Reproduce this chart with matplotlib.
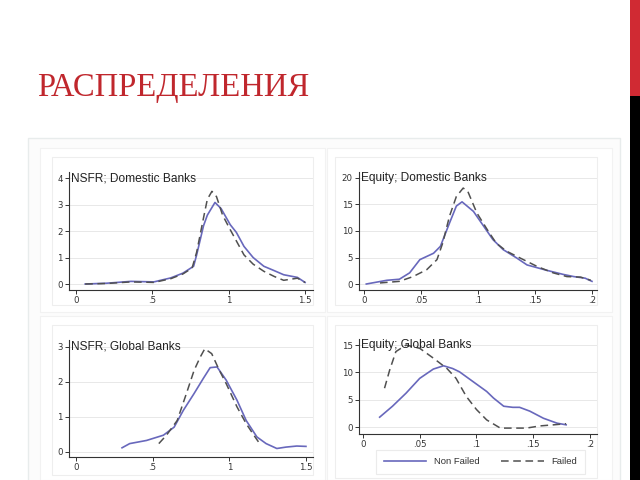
import matplotlib.pyplot as plt
import matplotlib.transforms as mtransforms
from matplotlib.patches import Rectangle
from matplotlib.lines import Line2D

# NSFR; Domestic Banks
nsfr_dom_nf_x = [0.06, 0.2, 0.36, 0.51, 0.62, 0.7, 0.77, 0.79, 0.835, 0.86, 0.91, 0.95, 1.01, 1.05, 1.1, 1.16, 1.23, 1.3, 1.36, 1.45, 1.5]
nsfr_dom_nf_y = [0.0, 0.03, 0.1, 0.08, 0.23, 0.41, 0.67, 1.1, 2.2, 2.6, 3.08, 2.85, 2.24, 1.95, 1.42, 1.0, 0.67, 0.5, 0.35, 0.25, 0.06]
nsfr_dom_f_x = [0.06, 0.2, 0.36, 0.51, 0.62, 0.7, 0.76, 0.79, 0.835, 0.86, 0.89, 0.92, 0.96, 1.01, 1.1, 1.16, 1.23, 1.3, 1.36, 1.45, 1.5]
nsfr_dom_f_y = [0.0, 0.02, 0.08, 0.06, 0.2, 0.38, 0.6, 1.2, 2.5, 3.2, 3.5, 3.3, 2.6, 2.05, 1.1, 0.75, 0.48, 0.28, 0.14, 0.22, 0.06]

# Equity; Domestic Banks
eq_dom_nf_x = [0.002, 0.02, 0.031, 0.04, 0.049, 0.061, 0.067, 0.075, 0.081, 0.086, 0.096, 0.105, 0.113, 0.122, 0.134, 0.143, 0.16, 0.175, 0.184, 0.194, 0.2]
eq_dom_nf_y = [0.0, 0.7, 0.9, 2.1, 4.6, 5.8, 7.1, 11.5, 14.7, 15.5, 13.7, 10.9, 8.4, 6.5, 4.9, 3.6, 2.6, 1.8, 1.4, 1.1, 0.5]
eq_dom_f_x = [0.014, 0.031, 0.043, 0.055, 0.064, 0.069, 0.075, 0.081, 0.087, 0.091, 0.099, 0.108, 0.116, 0.125, 0.137, 0.152, 0.166, 0.178, 0.19, 0.199]
eq_dom_f_y = [0.2, 0.5, 1.4, 2.7, 4.6, 7.7, 12.8, 16.5, 18.1, 17.5, 13.4, 10.3, 7.7, 6.2, 4.9, 3.3, 2.1, 1.4, 1.3, 0.7]

# NSFR; Global Banks
nsfr_glb_nf_x = [0.3, 0.35, 0.46, 0.57, 0.64, 0.7, 0.77, 0.83, 0.875, 0.92, 0.98, 1.05, 1.11, 1.18, 1.24, 1.31, 1.37, 1.44, 1.5]
nsfr_glb_nf_y = [0.12, 0.24, 0.33, 0.48, 0.71, 1.19, 1.67, 2.1, 2.41, 2.43, 2.05, 1.48, 0.9, 0.43, 0.24, 0.1, 0.14, 0.17, 0.16]
nsfr_glb_f_x = [0.54, 0.59, 0.66, 0.72, 0.77, 0.81, 0.84, 0.885, 0.93, 0.98, 1.05, 1.11, 1.16, 1.19]
nsfr_glb_f_y = [0.24, 0.48, 0.9, 1.67, 2.33, 2.71, 2.95, 2.81, 2.38, 1.95, 1.29, 0.81, 0.48, 0.29]

# Equity; Global Banks
eq_glb_nf_x = [0.0147, 0.026, 0.038, 0.05, 0.062, 0.071, 0.079, 0.085, 0.097, 0.109, 0.115, 0.124, 0.132, 0.138, 0.147, 0.159, 0.171, 0.179]
eq_glb_nf_y = [1.8, 3.8, 6.2, 8.9, 10.6, 11.2, 10.7, 10.1, 8.3, 6.5, 5.3, 3.8, 3.6, 3.6, 2.9, 1.6, 0.7, 0.4]
eq_glb_f_x = [0.019, 0.0235, 0.029, 0.038, 0.05, 0.062, 0.074, 0.082, 0.091, 0.1, 0.109, 0.121, 0.132, 0.144, 0.156, 0.168, 0.179]
eq_glb_f_y = [7.1, 10.4, 13.8, 15.0, 14.4, 12.6, 10.7, 8.9, 5.6, 3.2, 1.3, -0.2, -0.2, -0.2, 0.2, 0.4, 0.6]

nsfr_ticks = [0, 0.5, 1, 1.5]
nsfr_labels = ['0', '.5', '1', '1.5']
eq_ticks = [0, 0.05, 0.1, 0.15, 0.2]
eq_labels = ['0', '.05', '.1', '.15', '.2']

W, H = 640, 480
fig = plt.figure(figsize=(6.4, 4.8), dpi=100)
fig.patch.set_facecolor('white')


def px_rect(l, t, r, b, **kw):
    return Rectangle((l / W, 1 - b / H), (r - l) / W, (b - t) / H,
                     transform=fig.transFigure, zorder=-5, **kw)


# slide decorations
fig.patches.append(px_rect(630, 0, 640, 96, facecolor='#d02a33', edgecolor='none'))
fig.patches.append(px_rect(630, 96, 640, 480, facecolor='black', edgecolor='none'))
fig.patches.append(px_rect(28, 138, 620, 482, facecolor='#fcfcfc', edgecolor='#e8ecec', lw=1))
for box in [(40, 148, 325, 312), (327, 148, 612, 312), (40, 316, 325, 480), (327, 316, 612, 480)]:
    fig.patches.append(px_rect(*box, facecolor='white', edgecolor='#f2f2f2', lw=0.8))
for box in [(52, 157, 313, 305), (335, 157, 597, 305), (52, 325, 313, 475), (335, 325, 597, 478)]:
    fig.patches.append(px_rect(*box, facecolor='none', edgecolor='#eeeeee', lw=0.8))

fig.text(37 / W, 1 - 88 / H, 'РАСПРЕДЕЛЕНИЯ', color='#c0272d', fontsize=23.5,
         family='Liberation Serif', va='center', ha='left')

blue = '#6868bc'
gray = '#505050'


def panel(box, xlim, ylim, xticks, xlabels, yticks, title, nf, f):
    l, t, r, b = box
    ax = fig.add_axes([l / W, 1 - b / H, (r - l) / W, (b - t) / H])
    ax.set_facecolor('none')
    ax.plot(nf[0], nf[1], color=blue, lw=1.2)
    ax.plot(f[0], f[1], color=gray, lw=1.1, dashes=(5, 3))
    ax.set_xlim(xlim)
    ax.set_ylim(ylim)
    ax.set_xticks(xticks)
    ax.set_xticklabels(xlabels)
    ax.set_yticks(yticks)
    for s in ['top', 'right']:
        ax.spines[s].set_visible(False)
    for s in ['left', 'bottom']:
        ax.spines[s].set_color('#333333')
        ax.spines[s].set_linewidth(0.8)
    ax.tick_params(labelsize=6.2, length=3, width=0.7, pad=1.5, colors='#333333')
    ax.grid(axis='y', color='#e8e8e8', lw=0.7)
    ax.set_axisbelow(True)
    trans = mtransforms.blended_transform_factory(ax.transAxes, ax.transData)
    ax.text(0.01, yticks[-1], title, transform=trans, fontsize=8.6,
            family='Liberation Sans', color='#222222', va='center', ha='left')
    return ax


panel((69, 172, 313, 290), (-0.046, 1.552), (-0.226, 4.23), nsfr_ticks, nsfr_labels,
      [0, 1, 2, 3, 4], 'NSFR; Domestic Banks',
      (nsfr_dom_nf_x, nsfr_dom_nf_y), (nsfr_dom_f_x, nsfr_dom_f_y))
panel((359, 172, 597, 290), (-0.0044, 0.2044), (-1.13, 21.13), eq_ticks, eq_labels,
      [0, 5, 10, 15, 20], 'Equity; Domestic Banks',
      (eq_dom_nf_x, eq_dom_nf_y), (eq_dom_f_x, eq_dom_f_y))
panel((69, 340, 313, 457), (-0.046, 1.546), (-0.143, 3.2), nsfr_ticks, nsfr_labels,
      [0, 1, 2, 3], 'NSFR; Global Banks',
      (nsfr_glb_nf_x, nsfr_glb_nf_y), (nsfr_glb_f_x, nsfr_glb_f_y))
ax4 = panel((359, 339, 597, 434), (-0.0035, 0.2062), (-1.28, 16.1), eq_ticks, eq_labels,
            [0, 5, 10, 15], 'Equity; Global Banks',
            (eq_glb_nf_x, eq_glb_nf_y), (eq_glb_f_x, eq_glb_f_y))

handles = [Line2D([], [], color=blue, lw=1.2), Line2D([], [], color=gray, lw=1.1, dashes=(5, 3))]
leg = fig.legend(handles, ['Non Failed', 'Failed'], ncol=2,
                 bbox_to_anchor=((378 + 583) / 2 / W, 1 - 462 / H), loc='center',
                 frameon=True, handlelength=4.5, columnspacing=2.3, borderpad=0.5,
                 prop={'family': 'Liberation Sans', 'size': 6.8})
leg.get_frame().set_edgecolor('#e6e6e6')
leg.get_frame().set_linewidth(0.8)
leg.get_frame().set_boxstyle('square')
for txt in leg.get_texts():
    txt.set_color('#333333')

fig.savefig('out.png', dpi=100)
